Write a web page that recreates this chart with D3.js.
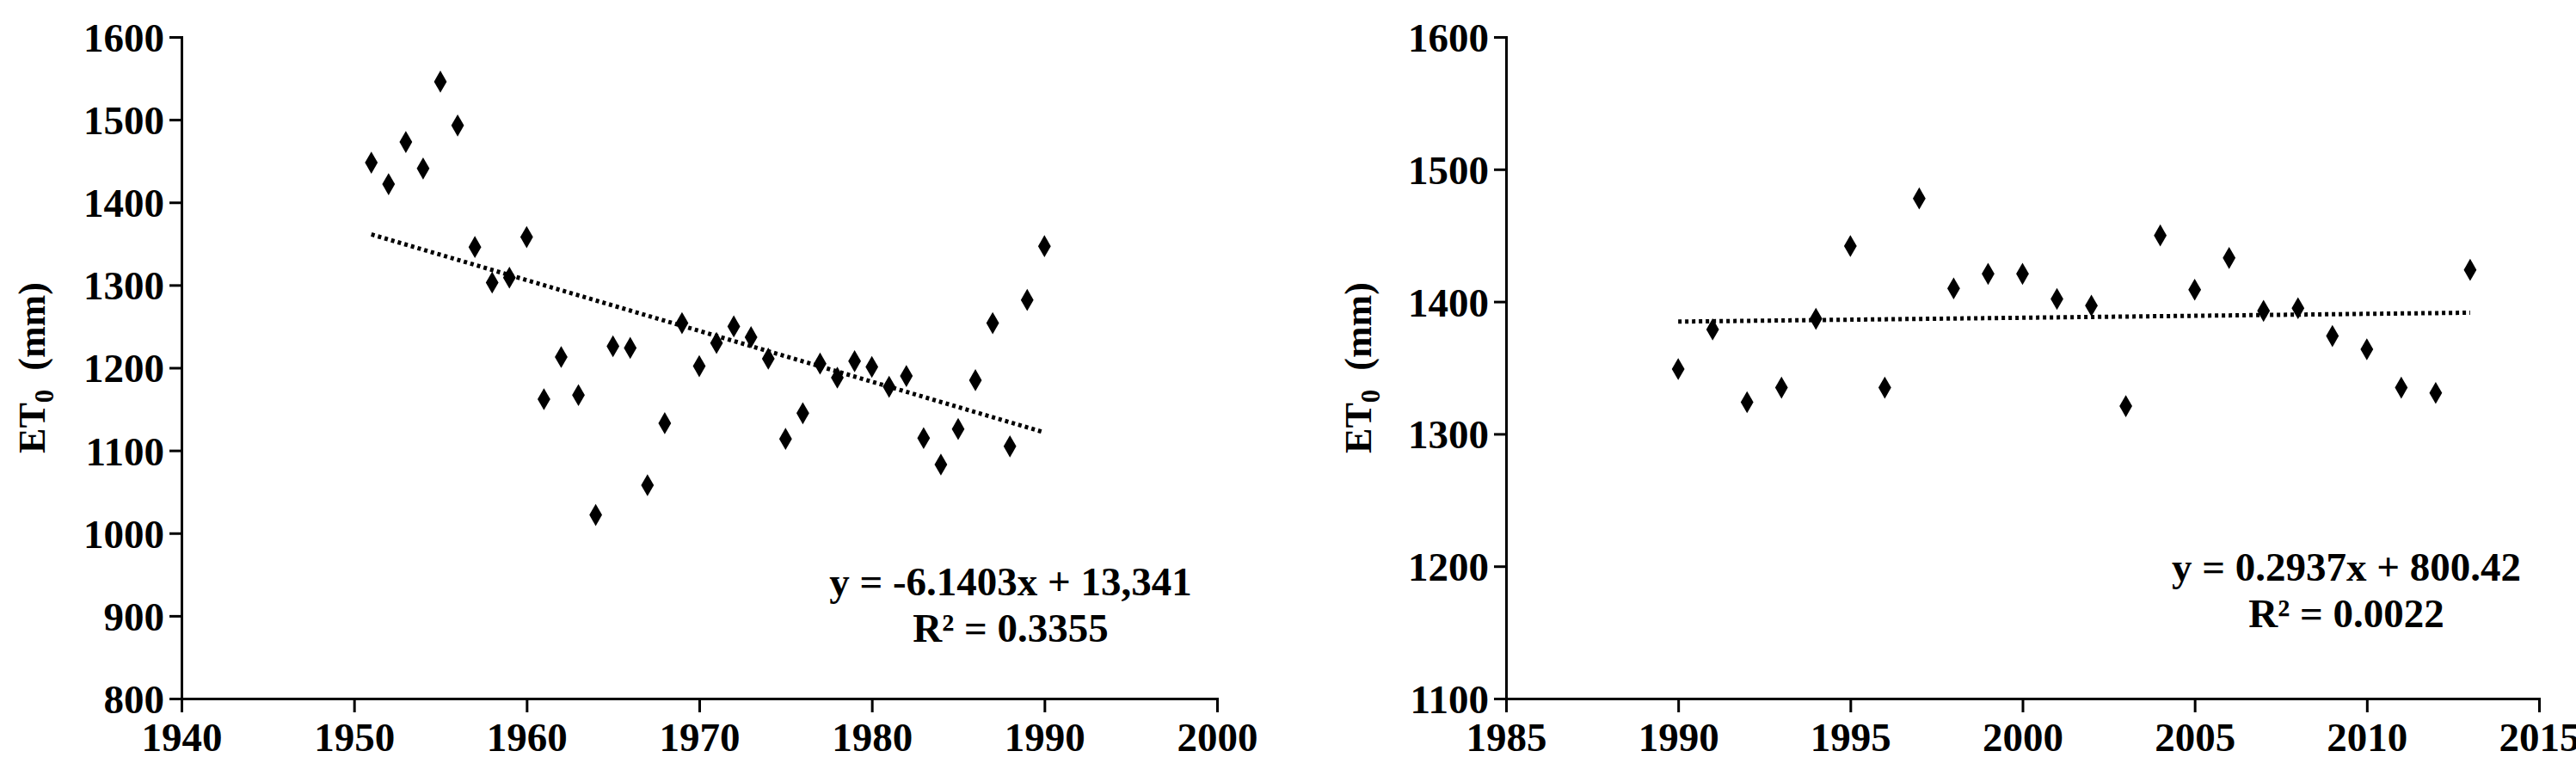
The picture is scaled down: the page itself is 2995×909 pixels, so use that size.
<!DOCTYPE html>
<html>
<head>
<meta charset="utf-8">
<script src="https://cdn.jsdelivr.net/npm/d3@7"></script>
<style>
  body { margin: 0; background: #fff; }
  text { font-family: "Liberation Serif", "Times New Roman", serif; font-weight: bold; }
</style>
</head>
<body>
<script>
const Width = 2995
const Height = 909

// left panel: 1951-1990
const yearsA = d3.range(1951, 1991)
const et0A = [1448, 1422, 1473, 1441, 1546, 1493, 1346, 1303, 1309, 1358,
  1162, 1213, 1167, 1022, 1226, 1224, 1058, 1133, 1254, 1202,
  1230, 1250, 1237, 1211, 1114, 1145, 1205, 1188, 1208, 1201,
  1177, 1190, 1115, 1083, 1126, 1185, 1254, 1105, 1282, 1347]
const xTicksA = [1940, 1950, 1960, 1970, 1980, 1990, 2000]
const yTicksA = [800, 900, 1000, 1100, 1200, 1300, 1400, 1500, 1600]
const trendA = { slope: -6.1403, intercept: 13341 }
const eqA = ['y = -6.1403x + 13,341', 'R² = 0.3355']

// right panel: 1990-2013
const yearsB = d3.range(1990, 2014)
const et0B = [1349, 1379, 1324, 1335, 1387, 1442, 1335, 1478, 1410, 1421,
  1421, 1402, 1397, 1321, 1450, 1409, 1433, 1393, 1395, 1374,
  1364, 1335, 1331, 1424]
const xTicksB = [1985, 1990, 1995, 2000, 2005, 2010, 2015]
const yTicksB = [1100, 1200, 1300, 1400, 1500, 1600]
const trendB = { slope: 0.2937, intercept: 800.42 }
const eqB = ['y = 0.2937x + 800.42', 'R² = 0.0022']

const svg = d3.select('body').append('svg')
  .attr('width', Width)
  .attr('height', Height)

function panel(cfg) {
  const g = svg.append('g')
  const x = d3.scaleLinear()
    .domain(d3.extent(cfg.xTicks))
    .range([cfg.x0, cfg.x1])
  const y = d3.scaleLinear()
    .domain(d3.extent(cfg.yTicks))
    .range([812, 43])

  const xAxis = g.append('g')
    .attr('transform', `translate(0,${y.range()[0]})`)
    .call(d3.axisBottom(x).tickValues(cfg.xTicks).tickFormat(d3.format('d')).tickSize(16).tickPadding(12))
  const yAxis = g.append('g')
    .attr('transform', `translate(${cfg.x0},0)`)
    .call(d3.axisLeft(y).tickValues(cfg.yTicks).tickFormat(d3.format('d')).tickSize(14).tickPadding(6))

  for (const a of [xAxis, yAxis]) {
    a.select('.domain').attr('stroke', '#000').attr('stroke-width', 3)
    a.selectAll('.tick line').attr('stroke', '#000').attr('stroke-width', 3)
    a.selectAll('.tick text')
      .attr('fill', '#000')
      .style('font-size', '47px')
      .style('font-family', '"Liberation Serif", serif')
      .style('font-weight', 'bold')
  }
  yAxis.selectAll('.tick text').attr('dy', '0.35em')

  // trend line
  const t0 = d3.min(cfg.years), t1 = d3.max(cfg.years)
  const f = v => cfg.trend.slope * v + cfg.trend.intercept
  g.append('line')
    .attr('x1', x(t0)).attr('y1', y(f(t0)))
    .attr('x2', x(t1)).attr('y2', y(f(t1)))
    .attr('stroke', '#000')
    .attr('stroke-width', 5)
    .attr('stroke-dasharray', '4,4')

  // points
  g.selectAll('path.pt')
    .data(cfg.years.map((yr, i) => [yr, cfg.values[i]]))
    .enter().append('path')
    .attr('class', 'pt')
    .attr('transform', d => `translate(${x(d[0])},${y(d[1])})`)
    .attr('d', d3.symbol(d3.symbolDiamond, 190))
    .attr('fill', '#000')

  // y label
  const lab = g.append('text')
    .attr('transform', `translate(${cfg.labelX},${(43 + 812) / 2}) rotate(-90)`)
    .attr('text-anchor', 'middle')
    .style('font-size', '44px')
  lab.append('tspan').text('ET')
  lab.append('tspan').text('0').attr('dy', 10).style('font-size', '31px')
  lab.append('tspan').text('\u00a0 (mm)').attr('dy', -10)

  // equation
  g.selectAll('text.eq')
    .data(cfg.eq)
    .enter().append('text')
    .attr('class', 'eq')
    .attr('x', cfg.eqX)
    .attr('y', (d, i) => cfg.eqY + i * 54)
    .attr('text-anchor', 'middle')
    .style('font-size', '47px')
    .text(d => d)
}

panel({ x0: 211, x1: 1415, xTicks: xTicksA, yTicks: yTicksA, years: yearsA, values: et0A,
  trend: trendA, eq: eqA, eqX: 1175, eqY: 692, labelX: 52 })
panel({ x0: 1751, x1: 2952, xTicks: xTicksB, yTicks: yTicksB, years: yearsB, values: et0B,
  trend: trendB, eq: eqB, eqX: 2728, eqY: 675, labelX: 1594 })
</script>
</body>
</html>
